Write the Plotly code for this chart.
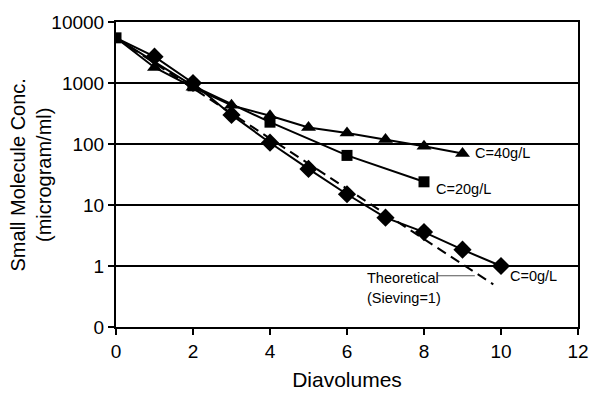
import numpy as np
import plotly.graph_objects as go

# Diafiltration washout of a small molecule at three protein concentrations
diavolumes_0 = [0, 1, 2, 3, 4, 5, 6, 7, 8, 9, 10]
conc_0 = [5500, 2700, 1000, 300, 105, 39, 15, 6.2, 3.6, 1.85, 1.0]

diavolumes_20 = [0, 2, 4, 6, 8]
conc_20 = [5500, 900, 228, 65, 24]

diavolumes_40 = [0, 1, 2, 3, 4, 5, 6, 7, 8, 9]
conc_40 = [5500, 1800, 850, 430, 290, 187, 152, 119, 92, 70]

# Theoretical curve for sieving coefficient of 1
theory_x = [0, 9.8]
theory_y = [5500, 0.5]

x_ticks = [0, 2, 4, 6, 8, 10, 12]
y_ticks = [0.1, 1, 10, 100, 1000, 10000]
y_tick_labels = ["0", "1", "10", "100", "1000", "10000"]

FONT = "Liberation Sans, Arial, Helvetica, sans-serif"


def hide_first(n):
    # the shared starting point is marked only by the square symbol
    return [0] + [1] * (n - 1)


fig = go.Figure()

fig.add_trace(go.Scatter(
    x=theory_x, y=theory_y, mode="lines",
    line=dict(color="black", width=2, dash="10px,6px"),
    showlegend=False,
))
fig.add_trace(go.Scatter(
    x=diavolumes_40, y=conc_40, mode="lines+markers",
    line=dict(color="black", width=2),
    marker=dict(symbol="triangle-up", size=13, color="black",
                opacity=hide_first(len(diavolumes_40))),
    showlegend=False,
))
fig.add_trace(go.Scatter(
    x=diavolumes_0, y=conc_0, mode="lines+markers",
    line=dict(color="black", width=2),
    marker=dict(symbol="diamond", size=14, color="black",
                opacity=hide_first(len(diavolumes_0))),
    showlegend=False,
))
fig.add_trace(go.Scatter(
    x=diavolumes_20, y=conc_20, mode="lines+markers",
    line=dict(color="black", width=2),
    marker=dict(symbol="square", size=11, color="black"),
    showlegend=False,
))

# Leader line from the "Theoretical" label to the dashed curve
fig.add_trace(go.Scatter(
    x=[8.36, 9.32], y=[10 ** -0.16, 10 ** -0.16], mode="lines",
    line=dict(color="#555555", width=1), showlegend=False,
))

label_font = dict(family=FONT, size=14.5, color="black")

# Series labels next to their final points
fig.add_annotation(x=diavolumes_40[-1], y=np.log10(conc_40[-1]), text="C=40g/L",
                   showarrow=False, xanchor="left", yanchor="middle", xshift=10,
                   font=label_font)
fig.add_annotation(x=diavolumes_20[-1], y=np.log10(conc_20[-1]), text="C=20g/L",
                   showarrow=False, xanchor="left", yanchor="middle", xshift=10, yshift=-7,
                   font=label_font)
fig.add_annotation(x=diavolumes_0[-1], y=np.log10(conc_0[-1]), text="C=0g/L",
                   showarrow=False, xanchor="left", yanchor="middle", xshift=7, yshift=-10,
                   font=label_font)

# Theoretical label
fig.add_annotation(x=6.47, y=-0.20, text="Theoretical", showarrow=False,
                   xanchor="left", yanchor="middle", font=label_font)
fig.add_annotation(x=6.47, y=-0.53, text="(Sieving=1)", showarrow=False,
                   xanchor="left", yanchor="middle", font=label_font)

# Y-axis title
fig.add_annotation(xref="paper", yref="paper", x=-0.184, y=0.5,
                   text="Small Molecule Conc.<br>(microgram/ml)", showarrow=False,
                   textangle=-90, xanchor="center", yanchor="middle",
                   font=dict(family=FONT, size=20, color="black"))

fig.update_xaxes(
    range=[0, 12], tickvals=x_ticks, showline=True, linecolor="black", linewidth=2,
    mirror=True, ticks="outside", ticklen=6, tickwidth=2, tickcolor="black",
    showgrid=False, zeroline=False, automargin=False,
    tickfont=dict(family=FONT, size=19, color="black"),
    title=dict(text="Diavolumes", font=dict(family=FONT, size=21, color="black"), standoff=12),
)
fig.update_yaxes(
    type="log", range=[-1, 4], tickvals=y_ticks, ticktext=y_tick_labels,
    showline=True, linecolor="black", linewidth=2, mirror=True,
    ticks="outside", ticklen=6, tickwidth=2, tickcolor="black",
    showgrid=True, gridcolor="black", gridwidth=1.5, zeroline=False, automargin=False,
    tickfont=dict(family=FONT, size=19, color="black"),
)

fig.update_layout(
    width=589, height=393,
    margin=dict(l=116, r=11, t=22, b=66),
    paper_bgcolor="white", plot_bgcolor="white",
    font=dict(family=FONT, color="black"),
)

fig.write_html("out.html")
